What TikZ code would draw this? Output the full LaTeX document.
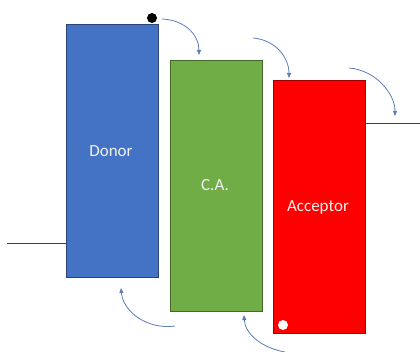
\documentclass[tikz,border=0pt]{standalone}
\usepackage{fontspec}
\setmainfont{Carlito}
\usetikzlibrary{arrows.meta}
\definecolor{dblue}{HTML}{4472C4}
\definecolor{dgreen}{HTML}{70AD47}
\definecolor{dred}{HTML}{FF0000}
\definecolor{arr}{HTML}{5B7DB8}
\tikzset{
  bar/.style={draw=#1!60!black, line width=0.8pt, fill=#1, minimum width=92pt, anchor=north west, inner sep=0pt},
  lbl/.style={text=white!90!gray, font=\fontsize{17}{20}\selectfont},
  hop/.style={draw=arr, line width=0.8pt, -{Triangle[length=5pt,width=4pt]}},
  wire/.style={draw=black!75, line width=0.8pt},
}
\begin{document}
\begin{tikzpicture}[x=1pt,y=-1pt]
\useasboundingbox (0,0) rectangle (420,352);
\node[bar=dblue, minimum height=253pt] (donor) at (66,24) {};
\node[bar=dgreen, minimum height=251pt] (ca) at (170,60) {};
\node[bar=dred, minimum height=253pt] (acc) at (273,80) {};
\node[lbl] (tdonor) at (111,151) {Donor};
\node[lbl] (tca) at (215,185) {C.A.};
\node[lbl] (tacc) at (318,207) {Acceptor};
\coordinate (wl) at (7,243);
\coordinate (wr) at (420,123);
\draw[wire] (wl) -- (wl -| donor.west);
\draw[wire] (wr -| acc.east) -- (wr);
\node[circle, fill=black, minimum size=10pt, inner sep=0pt] (bdot) at (152,18) {};
\node[circle, fill=white, minimum size=10pt, inner sep=0pt] (wdot) at (283,325) {};
\coordinate (a1s) at (162,19); \coordinate (a1e) at (199,55);
\coordinate (a2s) at (253,38); \coordinate (a2e) at (289,78);
\coordinate (a3s) at (349,68); \coordinate (a3e) at (395,116);
\coordinate (a4s) at (175,326); \coordinate (a4e) at (121,288);
\coordinate (a5s) at (285,352); \coordinate (a5e) at (244,315);
\draw[hop] (a1s) .. controls (185,20) and (199,35) .. (a1e);
\draw[hop] (a2s) .. controls (276,40) and (289,58) .. (a2e);
\draw[hop] (a3s) .. controls (375,70) and (395,93) .. (a3e);
\draw[hop] (a4s) .. controls (148,330) and (123,312) .. (a4e);
\draw[hop] (a5s) .. controls (262,348) and (245,334) .. (a5e);
\end{tikzpicture}
\end{document}
